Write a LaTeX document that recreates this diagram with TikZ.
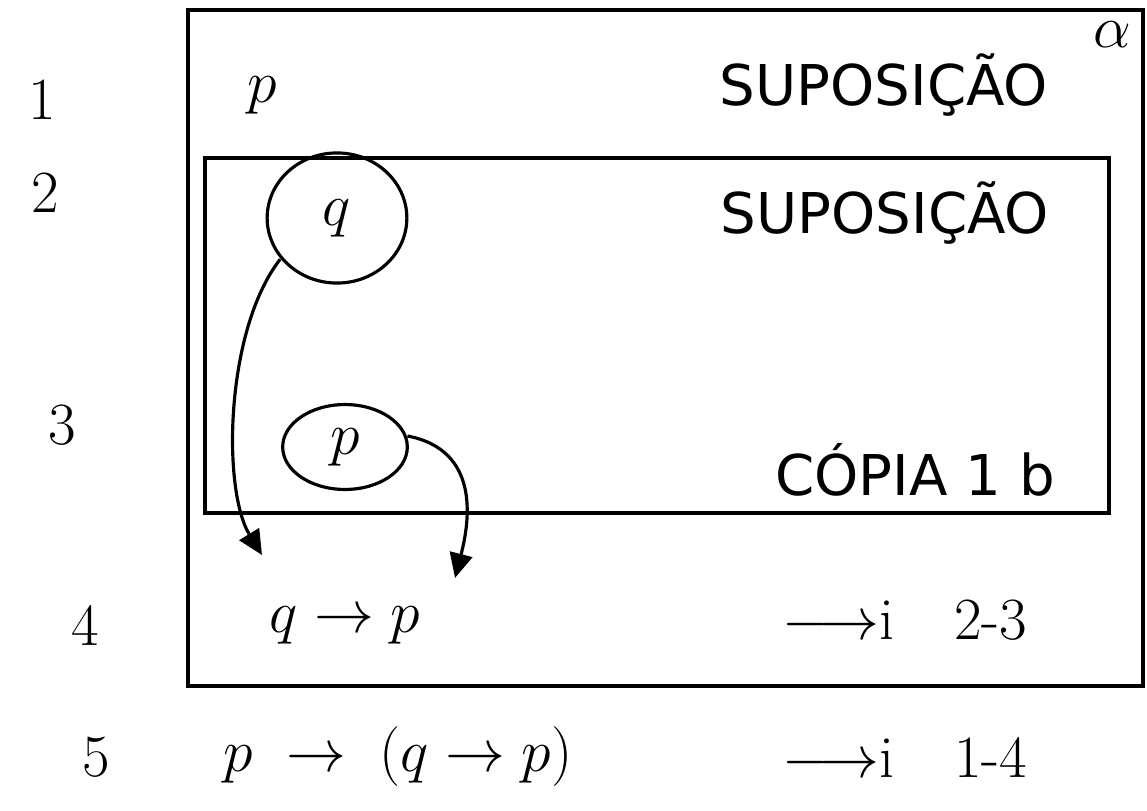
\documentclass[tikz,border=0pt]{standalone}
\usepackage{fontspec}
\setsansfont{DejaVu Sans}
\usetikzlibrary{shapes.geometric,arrows.meta}

\begin{document}
\begin{tikzpicture}[x=0.02cm, y=-0.02cm, line width=1.8pt,
    big/.style={font=\Huge, scale=1.37},
    txt/.style={font=\fontsize{32}{34}\selectfont\sffamily},
    ring/.style={draw, ellipse, inner sep=0pt},
    link/.style={-{Triangle[length=14pt,width=13pt]}}]
  \useasboundingbox (0,0) rectangle (1147,811);

  % boxes
  \draw (188,10) rectangle (1143,686);
  \draw (205,158) rectangle (1109,513);

  % line numbers
  \node[big] (n1) at (42,100) {1};
  \node[big] (n2) at (45,193) {2};
  \node[big] (n3) at (62,425) {3};
  \node[big] (n4) at (85,625) {4};
  \node[big] (n5) at (96,757) {5};

  % line 1
  \node[big] (p1) at (262,95) {$p$};
  \node[txt] (s1) at (884,85) {SUPOSIÇÃO};
  \node[big] (al) at (1112,35) {$\alpha$};

  % line 2
  \node[big, ring, minimum width=2.04cm, minimum height=1.9cm] (q2) at (337,218) {$q$};
  \node[txt] (s2) at (885,213) {SUPOSIÇÃO};

  % line 3
  \node[big, ring, minimum width=1.82cm, minimum height=1.24cm] (p3) at (345,447) {$p$};
  \node[txt] (c3) at (915,470) {CÓPIA 1 b};

  % line 4
  \node[big] (f4) at (345,625) {$q \rightarrow p$};
  \node[big] (r4) at (905,620) {$\longrightarrow$i\quad 2-3};
  \coordinate (tq) at (262,555);
  \coordinate (tp) at (455,578);

  % line 5
  \node[big] (f5) at (398,757) {$p \;\rightarrow\; (q \rightarrow p)$};
  \node[big] (r5) at (905,757) {$\longrightarrow$i\quad 1-4};

  % where the lines go
  \draw[link] (q2.216) .. controls (225,330) and (222,490) .. (tq);
  \draw[link] (p3.10) .. controls (480,450) and (470,520) .. (tp);
\end{tikzpicture}
\end{document}
